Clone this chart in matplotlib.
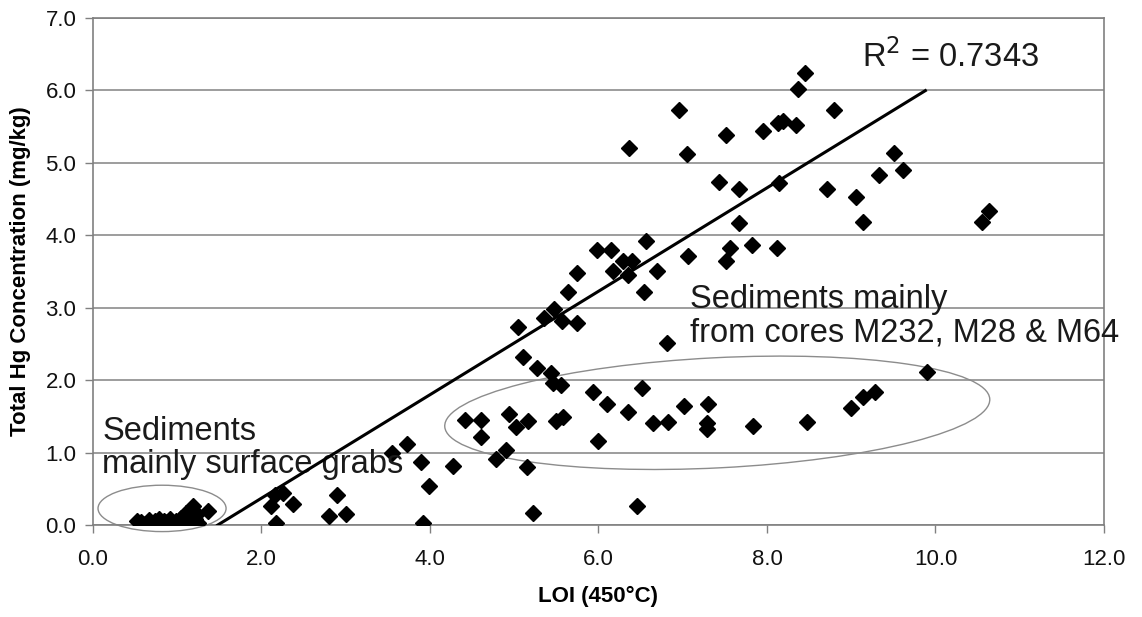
import matplotlib
matplotlib.use('Agg')
import matplotlib.pyplot as plt
from matplotlib.patches import Ellipse
import numpy as np

plt.rcParams['font.family'] = ['Liberation Sans', 'DejaVu Sans']

# surface grabs (LOI < 1.5)
surf_loi = [0.52, 0.57, 0.62, 0.66, 0.70, 0.74, 0.78, 0.80, 0.84, 0.88, 0.92, 0.95,
            0.98, 1.02, 1.05, 1.08, 1.10, 1.13, 1.15, 1.17, 1.19, 1.21, 1.23, 1.25, 1.37]
surf_hg = [0.06, 0.04, 0.02, 0.07, 0.03, 0.05, 0.09, 0.02, 0.06, 0.04, 0.08, 0.03,
           0.05, 0.02, 0.10, 0.04, 0.16, 0.06, 0.12, 0.20, 0.26, 0.08, 0.15, 0.03, 0.20]

# remaining samples
loi = [2.16, 2.26, 2.11, 2.37, 2.17, 2.90, 2.80, 3.00, 3.55, 3.73, 3.89, 3.99, 3.92,
       4.27, 4.42, 4.60, 4.60, 4.78, 4.90, 4.94, 5.02, 5.16, 5.15, 5.22, 5.46, 5.56,
       5.50, 5.58, 5.93, 6.10, 5.99, 6.52, 6.35, 6.65, 6.82, 6.46, 7.01, 7.30, 7.29,
       7.29, 7.83, 9.90, 9.00, 9.14, 9.28, 8.47, 9.51, 9.61, 9.33, 8.71, 9.06, 9.14,
       10.55, 10.64, 8.14, 8.12, 7.82, 8.45, 8.37, 8.80, 6.96, 6.36, 7.05, 7.51, 7.95,
       8.13, 8.19, 8.34, 7.43, 7.67, 7.67, 7.56, 7.51, 7.06, 6.56, 6.69, 5.98, 6.15,
       6.29, 6.40, 6.17, 6.35, 5.74, 5.64, 6.54, 5.47, 5.35, 5.57, 5.74, 5.04, 6.81,
       5.10, 5.27, 5.44]
hg = [0.41, 0.44, 0.26, 0.29, 0.03, 0.41, 0.12, 0.15, 1.00, 1.12, 0.87, 0.54, 0.03,
      0.82, 1.45, 1.45, 1.21, 0.91, 1.04, 1.53, 1.35, 1.44, 0.80, 0.17, 1.96, 1.93,
      1.44, 1.49, 1.84, 1.67, 1.16, 1.89, 1.56, 1.41, 1.42, 0.26, 1.64, 1.67, 1.41,
      1.33, 1.37, 2.11, 1.62, 1.77, 1.84, 1.42, 5.14, 4.90, 4.83, 4.64, 4.53, 4.18,
      4.18, 4.34, 4.72, 3.83, 3.87, 6.24, 6.02, 5.73, 5.73, 5.21, 5.12, 5.39, 5.44,
      5.55, 5.58, 5.52, 4.74, 4.64, 4.17, 3.83, 3.65, 3.72, 3.92, 3.51, 3.80, 3.80,
      3.65, 3.65, 3.51, 3.45, 3.48, 3.22, 3.22, 2.98, 2.86, 2.82, 2.79, 2.73, 2.51,
      2.32, 2.17, 2.10]

# trendline as drawn on the original
trend_x = [1.48, 9.88]
trend_slope = 0.714
r2_text = 'R$^2$ = 0.7343'

x = np.array(surf_loi + loi)
y = np.array(surf_hg + hg)

fig = plt.figure(figsize=(11.42, 6.17), dpi=100)
ax = fig.add_axes([0.0814, 0.149, 0.8853, 0.8218])

ax.set_xlim(0, 12)
ax.set_ylim(0, 7)
ax.set_xticks(np.arange(0, 12.1, 2))
ax.set_yticks(np.arange(0, 7.1, 1))
ax.set_xticklabels(['%.1f' % v for v in np.arange(0, 12.1, 2)])
ax.set_yticklabels(['%.1f' % v for v in np.arange(0, 7.1, 1)])
ax.tick_params(colors='#808080', labelcolor='#111111', labelsize=16, length=6, width=1)
ax.tick_params(axis='x', pad=11)
ax.tick_params(axis='y', pad=6)
ax.yaxis.grid(True, color='#8c8c8c', lw=1.2)
ax.set_axisbelow(True)
for s in ax.spines.values():
    s.set_color('#808080')
    s.set_linewidth(1.2)

ax.plot(x, y, 'D', color='black', ms=8, ls='none', zorder=3)

tx = np.array(trend_x)
ax.plot(tx, trend_slope * (tx - trend_x[0]), color='black', lw=2.2, zorder=4)

ax.add_patch(Ellipse((0.82, 0.23), 1.52, 0.64, fill=False, ec='#8c8c8c', lw=1, clip_on=False))
ax.add_patch(Ellipse((7.41, 1.55), 6.48, 1.52, angle=3.4, fill=False, ec='#8c8c8c', lw=1))

ax.text(0.11, 0.72, 'Sediments\nmainly surface grabs', fontsize=23.5, color='#1a1a1a',
        va='baseline', ha='left', linespacing=1.1)
ax.text(7.09, 2.53, 'Sediments mainly\nfrom cores M232, M28 & M64', fontsize=23.5, color='#1a1a1a',
        va='baseline', ha='left', linespacing=1.1)
ax.text(9.13, 6.33, r2_text, fontsize=23.5, color='#1a1a1a', va='baseline', ha='left')

ax.set_xlabel('LOI (450°C)', fontsize=16, fontweight='bold', labelpad=12)
ax.set_ylabel('Total Hg Concentration (mg/kg)', fontsize=16, fontweight='bold', labelpad=10)

fig.savefig('out.png', dpi=100)
